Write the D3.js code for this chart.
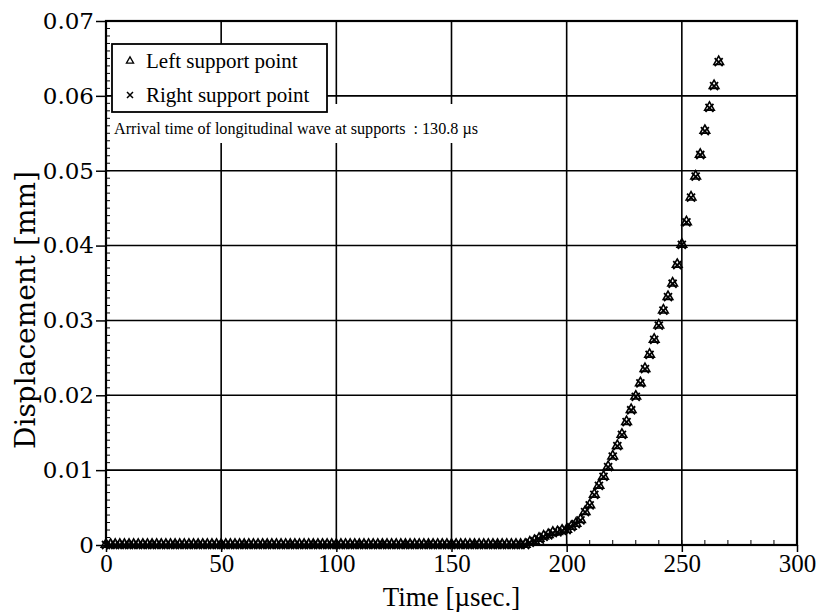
<!DOCTYPE html>
<html><head><meta charset="utf-8">
<script src="https://cdn.jsdelivr.net/npm/d3@7"></script>
<style>body{margin:0;background:#fff}svg{display:block}</style>
</head><body>
<svg id="c" width="816" height="615"></svg>
<script>
const times = [0,2,4,6,8,10,12,14,16,18,20,22,24,26,28,30,32,34,36,38,40,42,44,46,48,50,52,54,56,58,60,62,64,66,68,70,72,74,76,78,80,82,84,86,88,90,92,94,96,98,100,102,104,106,108,110,112,114,116,118,120,122,124,126,128,130,132,134,136,138,140,142,144,146,148,150,152,154,156,158,160,162,164,166,168,170,172,174,176,178,180,182,184,186,188,190,192,194,196,198,200,202,204,206,208,210,212,214,216,218,220,222,224,226,228,230,232,234,236,238,240,242,244,246,248,250,252,254,256,258,260,262,264,266];
const leftSupport = [0,0,0,0,0,0,0,0,0,0,0,0,0,0,0,0,0,0,0,0,0,0,0,0,0,0,0,0,0,0,0,0,0,0,0,0,0,0,0,0,0,0,0,0,0,0,0,0,0,0,0,0,0,0,0,0,0,0,0,0,0,0,0,0,0,0,0,0,0,0,0,0,0,0,0,0,0,0,0,0,0,0,0,0,0,0,0,0,0,0,0,0,
 0.0003,0.0005,0.0008,0.0011,0.0013,0.0016,0.0017,0.0019,0.0020,0.0024,0.0028,0.0033,0.0044,0.0053,0.0067,0.0079,0.0091,0.0104,0.0118,0.0132,0.0147,0.0164,0.0180,0.0198,0.0216,0.0235,0.0254,0.0274,0.0293,0.0313,0.0331,0.0349,0.0374,0.0401,0.0431,0.0464,0.0492,0.0521,0.0553,0.0584,0.0613,0.0645];
const rightSupport = [0,0,0,0,0,0,0,0,0,0,0,0,0,0,0,0,0,0,0,0,0,0,0,0,0,0,0,0,0,0,0,0,0,0,0,0,0,0,0,0,0,0,0,0,0,0,0,0,0,0,0,0,0,0,0,0,0,0,0,0,0,0,0,0,0,0,0,0,0,0,0,0,0,0,0,0,0,0,0,0,0,0,0,0,0,0,0,0,0,0,0,0,
 0.0003,0.0005,0.0008,0.0011,0.0013,0.0016,0.0017,0.0019,0.0020,0.0024,0.0028,0.0033,0.0044,0.0053,0.0067,0.0079,0.0091,0.0104,0.0118,0.0132,0.0147,0.0164,0.0180,0.0198,0.0216,0.0235,0.0254,0.0274,0.0293,0.0313,0.0331,0.0349,0.0374,0.0401,0.0431,0.0464,0.0492,0.0521,0.0553,0.0584,0.0613,0.0645];
const xTicks = [0,50,100,150,200,250,300];
const yTicks = [0,0.01,0.02,0.03,0.04,0.05,0.06,0.07];
const yTickLabels = ["0","0.01","0.02","0.03","0.04","0.05","0.06","0.07"];
const seriesNames = ["Left support point","Right support point"];
const annotation = "Arrival time of longitudinal wave at supports  : 130.8 \u00b5s";
const xTitle = "Time [\u00b5sec.]";
const yTitle = "Displacement [mm]";

const svg = d3.select("#c");
const L=106,R=797,T=21,B=545;
const x = d3.scaleLinear().domain([0,300]).range([L,R]);
const y = d3.scaleLinear().domain([0,0.07]).range([B,T]);

// grid
const g = svg.append("g");
g.selectAll(".vg").data(xTicks.slice(1,-1)).enter().append("line")
 .attr("x1",d=>x(d)).attr("x2",d=>x(d)).attr("y1",T).attr("y2",B)
 .attr("stroke","#000").attr("stroke-width",1.6);
g.selectAll(".hg").data(yTicks.slice(1,-1)).enter().append("line")
 .attr("x1",L).attr("x2",R).attr("y1",d=>y(d)).attr("y2",d=>y(d))
 .attr("stroke","#000").attr("stroke-width",1.6);

// minor ticks
const yMinor = d3.range(0,71).map(i=>i/1000);
g.selectAll(".ym").data(yMinor).enter().append("line")
 .attr("x1",L).attr("x2",L+4).attr("y1",d=>y(d)).attr("y2",d=>y(d))
 .attr("stroke","#000").attr("stroke-width",1);
const xMinor = d3.range(0,301,10);
g.selectAll(".xm").data(xMinor).enter().append("line")
 .attr("x1",d=>x(d)).attr("x2",d=>x(d)).attr("y1",B).attr("y2",B-5)
 .attr("stroke","#000").attr("stroke-width",1);

// axes
const xAxis = d3.axisBottom(x).tickValues(xTicks).tickSize(7).tickPadding(2).tickFormat(d3.format("d"));
const xa = svg.append("g").attr("transform",`translate(0,${B})`).call(xAxis);
xa.select(".domain").remove();
xa.selectAll("line").attr("stroke","#000").attr("stroke-width",1.5);
xa.selectAll("text").attr("font-family","Liberation Serif").attr("font-size",25).attr("fill","#000");

const yAxis = d3.axisLeft(y).tickValues(yTicks).tickSize(10).tickPadding(2).tickFormat((d,i)=>yTickLabels[i]);
const ya = svg.append("g").attr("transform",`translate(${L},0)`).call(yAxis);
ya.select(".domain").remove();
ya.selectAll("line").attr("stroke","#000").attr("stroke-width",1.5);
ya.selectAll("text").attr("font-family","DejaVu Serif").attr("font-size",23).attr("fill","#000");

// frame
svg.append("rect").attr("x",L).attr("y",T).attr("width",R-L).attr("height",B-T)
 .attr("fill","none").attr("stroke","#000").attr("stroke-width",2.2);

// titles
svg.append("text").attr("x",(L+R)/2).attr("y",606).attr("text-anchor","middle")
 .attr("font-family","Liberation Serif").attr("font-size",27).text(xTitle);
svg.append("text").attr("transform",`translate(35,310) rotate(-90)`).attr("text-anchor","middle")
 .attr("font-family","DejaVu Serif").attr("font-size",28).text(yTitle);

// markers
const tri = d3.symbol().type(d3.symbolTriangle).size(40);
const data1 = times.map((t,i)=>[t,leftSupport[i]]);
const data2 = times.map((t,i)=>[t,rightSupport[i]]);
svg.append("g").selectAll("path").data(data1).enter().append("path")
 .attr("d",tri).attr("transform",d=>`translate(${x(d[0])},${y(d[1])-0.5})`)
 .attr("fill","none").attr("stroke","#000").attr("stroke-width",1.6);
svg.append("g").selectAll("path").data(data2).enter().append("path")
 .attr("d","M-4,-4L4,4M-4,4L4,-4").attr("transform",d=>`translate(${x(d[0])},${y(d[1])})`)
 .attr("fill","none").attr("stroke","#000").attr("stroke-width",1.8);

// annotation
svg.append("rect").attr("x",111).attr("y",104).attr("width",370).attr("height",39).attr("fill","#fff");
svg.append("text").attr("x",114).attr("y",134).attr("font-family","Liberation Serif").attr("font-size",17.5)
 .attr("textLength",364).attr("lengthAdjust","spacingAndGlyphs")
 .style("white-space","pre").text(annotation);

// legend
const lg = svg.append("g");
lg.append("rect").attr("x",112).attr("y",44).attr("width",215).attr("height",68)
 .attr("fill","#fff").attr("stroke","#000").attr("stroke-width",1.8);
lg.append("path").attr("d",d3.symbol().type(d3.symbolTriangle).size(22)).attr("transform","translate(130,61)")
 .attr("fill","none").attr("stroke","#000").attr("stroke-width",1.3);
lg.append("path").attr("d","M-3,-3L3,3M-3,3L3,-3").attr("transform","translate(130,95)")
 .attr("fill","none").attr("stroke","#000").attr("stroke-width",1.5);
lg.append("text").attr("x",146).attr("y",68).attr("font-family","Liberation Serif").attr("font-size",21).text(seriesNames[0]);
lg.append("text").attr("x",146).attr("y",102).attr("font-family","Liberation Serif").attr("font-size",21).text(seriesNames[1]);
</script>
</body></html>
